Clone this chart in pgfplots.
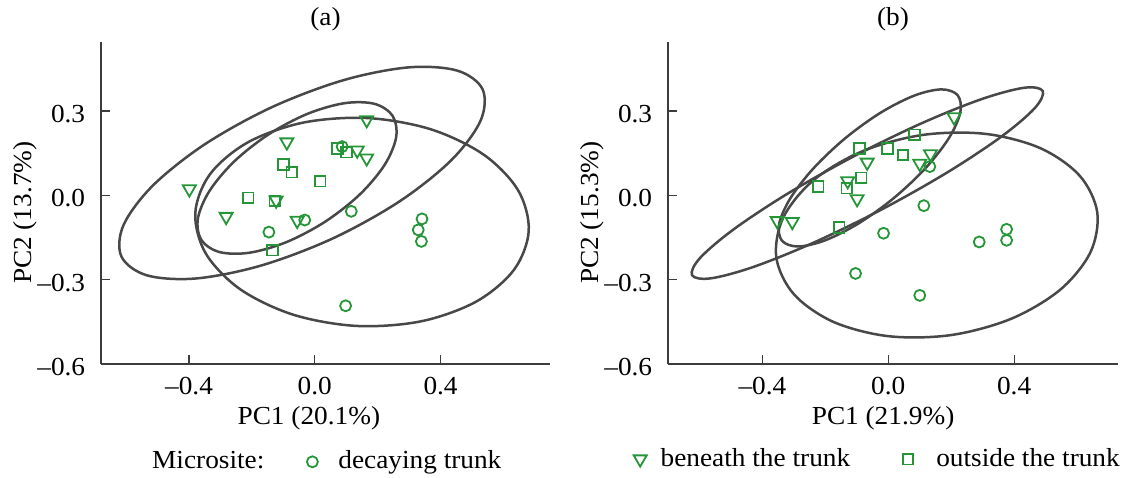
\documentclass[border=0pt]{standalone}
\usepackage{fontspec}
\setmainfont{Liberation Serif}[FakeStretch=1.05]
\usepackage{pgfplots}
\pgfplotsset{compat=1.18}
\definecolor{mgreen}{RGB}{36,150,56}
\definecolor{ellc}{RGB}{72,72,72}
\definecolor{axc}{RGB}{60,60,60}
\pgfplotsset{
  pcastyle/.style={
    scale only axis, width=449pt, height=322pt,
    ymin=-0.6, ymax=0.545,
    axis lines=left, axis line style={-, draw=axc, line width=1.3pt},
    tick align=inside, major tick length=9pt, tick style={draw=axc, line width=1.3pt},
    xtick={-0.4,0,0.4}, xticklabels={–0.4,0.0,0.4},
    ytick={-0.6,-0.3,0,0.3}, yticklabels={–0.6,–0.3,0.0,0.3},
    xticklabel style={yshift=-4pt},
    yticklabel style={xshift=-7pt, yshift=-3pt},
    clip=false,
    title style={at={(axis description cs:0.5,1.034)}, anchor=base},
  },
  circ/.style={only marks, mark=o, mark size=5.5pt, draw=mgreen, line width=1.8pt, mark options={line width=1.8pt, draw=mgreen}},
  tri/.style={only marks, mark=triangle, mark size=7.5pt, draw=mgreen, line width=1.8pt, mark options={rotate=180, line width=1.8pt, draw=mgreen}},
  sqr/.style={only marks, mark=square, mark size=5.3pt, draw=mgreen, line width=1.8pt, mark options={line width=1.8pt, draw=mgreen}},
  ell/.style={draw=ellc, line width=2.5pt, smooth cycle, tension=0.55, mark=none, forget plot},
}
\begin{document}
\fontsize{26}{31}\selectfont
\begin{tikzpicture}[font=\fontsize{26}{31}\selectfont]
\path[use as bounding box] (0pt,0pt) rectangle (1127pt,-477pt);
% ---------------- panel (a)
\begin{axis}[pcastyle, at={(101pt,-364pt)}, anchor=south west,
  xmin=-0.68, xmax=0.748,
  title={(a)},
  xlabel={PC1 (20.1\%)}, ylabel={PC2 (13.7\%)},
  xlabel style={at={(axis description cs:0.463,-0.1894)}, anchor=base},
  ylabel style={at={(axis description cs:-0.154,0.47)}, anchor=base},
  legend columns=2,
  legend style={legend cell align=left, draw=none, fill=none, inner sep=0pt, nodes={inner sep=0pt},
    at={(axis description cs:0,0)}, anchor=west, xshift=51pt, yshift=-97.8pt,
    /tikz/column 2/.style={column sep=42.5pt}, /tikz/column 3/.style={column sep=20.5pt}},
]
\addlegendimage{empty legend}
\addlegendentry{Microsite:}
\addplot[circ] coordinates {(0.087,0.173) (0.116,-0.057) (-0.032,-0.088) (-0.146,-0.131)
  (0.341,-0.084) (0.329,-0.123) (0.339,-0.164) (0.098,-0.393)};
\addlegendentry{decaying trunk}
\addplot[tri, forget plot] coordinates {(0.165,0.268) (-0.089,0.189) (0.135,0.160) (0.165,0.132)
  (-0.399,0.022) (-0.123,-0.018) (-0.282,-0.076) (-0.056,-0.090)};
\addplot[sqr, forget plot] coordinates {(0.072,0.167) (0.101,0.153) (-0.100,0.110) (-0.073,0.082)
  (0.017,0.050) (-0.212,-0.009) (-0.127,-0.020) (-0.134,-0.195)};
% ellipse A
\addplot[ell] coordinates {(0.5337,0.3765) (0.4531,0.4433) (0.2973,0.4547) (0.0900,0.4089)
  (-0.1371,0.3130) (-0.3496,0.1815) (-0.5151,0.0345) (-0.6083,-0.1057)
  (-0.6151,-0.2177) (-0.5345,-0.2845) (-0.3787,-0.2959) (-0.1714,-0.2501)
  (0.0557,-0.1542) (0.2682,-0.0227) (0.4337,0.1243) (0.5269,0.2645)};
% ellipse B
\addplot[ell] coordinates {(0.2474,0.2825) (0.1899,0.3251) (0.0948,0.3275) (-0.0235,0.2895)
  (-0.1466,0.2168) (-0.2561,0.1205) (-0.3352,0.0151) (-0.3719,-0.0831)
  (-0.3606,-0.1593) (-0.3031,-0.2019) (-0.2080,-0.2043) (-0.0897,-0.1663)
  (0.0334,-0.0936) (0.1429,0.0027) (0.2220,0.1081) (0.2587,0.2063)};
% ellipse C
\addplot[ell] coordinates {(0.6804,-0.1261) (0.6466,0.0177) (0.5373,0.1443) (0.3690,0.2346)
  (0.1674,0.2746) (-0.0368,0.2584) (-0.2127,0.1883) (-0.3332,0.0751)
  (-0.3802,-0.0639) (-0.3464,-0.2077) (-0.2371,-0.3343) (-0.0688,-0.4246)
  (0.1328,-0.4646) (0.3370,-0.4484) (0.5129,-0.3783) (0.6334,-0.2651)};
\end{axis}
% ---------------- panel (b)
\begin{axis}[pcastyle, at={(668pt,-364pt)}, anchor=south west, width=450pt,
  xmin=-0.70, xmax=0.730,
  title={(b)},
  xlabel={PC1 (21.9\%)}, ylabel={PC2 (15.3\%)},
  xlabel style={at={(axis description cs:0.478,-0.1894)}, anchor=base},
  ylabel style={at={(axis description cs:-0.154,0.47)}, anchor=base},
  legend columns=2,
  legend style={legend cell align=left, draw=none, fill=none, inner sep=0pt, nodes={inner sep=0pt},
    at={(axis description cs:0,0)}, anchor=west, xshift=-34.5pt, yshift=-95.1pt,
    /tikz/column 1/.style={column sep=14pt}, /tikz/column 2/.style={column sep=52.5pt},
    /tikz/column 3/.style={column sep=23pt}},
]
\addplot[circ, forget plot] coordinates {(0.132,0.102) (0.113,-0.037) (-0.015,-0.135) (0.289,-0.166)
  (0.376,-0.121) (0.376,-0.160) (-0.104,-0.278) (0.100,-0.356)};
\addplot[tri] coordinates {(0.209,0.278) (-0.067,0.117) (0.134,0.147) (0.100,0.113)
  (-0.129,0.051) (-0.099,-0.013) (-0.353,-0.091) (-0.305,-0.094)};
\addlegendentry{beneath the trunk}
\addplot[sqr] coordinates {(0.083,0.215) (-0.092,0.166) (-0.002,0.166) (0.047,0.143)
  (-0.086,0.062) (-0.223,0.031) (-0.132,0.025) (-0.156,-0.114)};
\addlegendentry{outside the trunk}
% ellipse D
\addplot[ell] coordinates {(0.4908,0.3709) (0.4314,0.3822) (0.2963,0.3418) (0.1059,0.2560)
  (-0.1107,0.1379) (-0.3205,0.0054) (-0.4917,-0.1214) (-0.5982,-0.2230)
  (-0.6236,-0.2841) (-0.5642,-0.2954) (-0.4291,-0.2550) (-0.2387,-0.1692)
  (-0.0221,-0.0511) (0.1877,0.0814) (0.3589,0.2082) (0.4654,0.3098)};
% ellipse E
\addplot[ell] coordinates {(0.2204,0.3558) (0.1693,0.3765) (0.0834,0.3548) (-0.0241,0.2938)
  (-0.1368,0.2028) (-0.2377,0.0958) (-0.3114,-0.0110) (-0.3467,-0.1013)
  (-0.3380,-0.1614) (-0.2869,-0.1821) (-0.2010,-0.1604) (-0.0935,-0.0994)
  (0.0192,-0.0084) (0.1201,0.0986) (0.1938,0.2054) (0.2291,0.2957)};
% ellipse F
\addplot[ell] coordinates {(0.6640,-0.0601) (0.6079,0.0699) (0.4827,0.1677) (0.3075,0.2185)
  (0.1090,0.2145) (-0.0827,0.1563) (-0.2383,0.0529) (-0.3341,-0.0801)
  (-0.3556,-0.2225) (-0.2995,-0.3525) (-0.1743,-0.4503) (0.0009,-0.5011)
  (0.1994,-0.4971) (0.3911,-0.4389) (0.5467,-0.3355) (0.6425,-0.2025)};
\end{axis}
\end{tikzpicture}
\end{document}
